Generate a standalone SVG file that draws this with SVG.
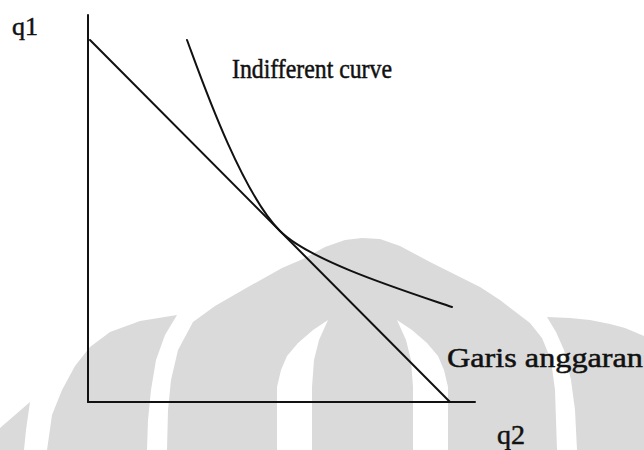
<svg xmlns="http://www.w3.org/2000/svg" width="644" height="450" viewBox="0 0 644 450">
  <style>
    .wm { fill: #dadada; stroke: none; }
    .wh { fill: #ffffff; stroke: none; }
    .ln { fill: none; stroke: #111111; stroke-width: 2; stroke-linecap: round; stroke-linejoin: round; }
    .lbl { font-family: "Liberation Serif", "Times New Roman", serif; fill: #111111; stroke: #111111; stroke-width: 0.5; }
  </style>
  <rect x="0" y="0" width="644" height="450" fill="#ffffff"/>
  <g id="watermark">
    <polygon class="wm" points="0,428 30,402 26,430 24,450 0,450"/>
    <polygon class="wm" points="47,450 52,415 62,390 75,366 90,347 110,332 140,321 177,315 165,335 156,360 151,390 148,420 147,450"/>
    <polygon class="wm" points="167,450 168,410 171,380 178,350 193,322 215,306 248,287 282,268 303,259 325,247 345,240 362,238 380,239 400,246 430,262 460,277 480,287 500,300 513,310 530,323 542,338 551,360 555,390 557,450"/>
    <polygon class="wh" points="328,320 313,330 298,343 287,356 281,370 277,387 277,450 312,450 312,387 314,360 319,340"/>
    <polygon class="wh" points="397,320 412,330 427,343 438,356 444,370 448,387 448,450 413,450 413,387 411,360 406,340"/>
    <polygon class="wm" points="547,317 570,318 590,320 610,324 625,328 644,336 644,450 577,450 575,410 571,380 564,350 556,332"/>
  </g>
  <g id="axes">
    <line class="ln" x1="88" y1="15" x2="88" y2="402"/>
    <line class="ln" x1="88" y1="402" x2="475" y2="402"/>
  </g>
  <g id="budget-line">
    <line class="ln" x1="90" y1="40" x2="450" y2="402"/>
  </g>
  <g id="indifference-curve">
    <path class="ln" d="M187,40 C199,72 240,191 280,231 C310,261 402,290 452,307"/>
  </g>
  <g id="labels">
    <text class="lbl" x="12" y="35" font-size="26">q1</text>
    <text class="lbl" x="232" y="78" font-size="27" textLength="160" lengthAdjust="spacingAndGlyphs">Indifferent curve</text>
    <text class="lbl" x="447" y="367" font-size="28" textLength="196" lengthAdjust="spacingAndGlyphs">Garis anggaran</text>
    <text class="lbl" x="497" y="444" font-size="28">q2</text>
  </g>
</svg>
